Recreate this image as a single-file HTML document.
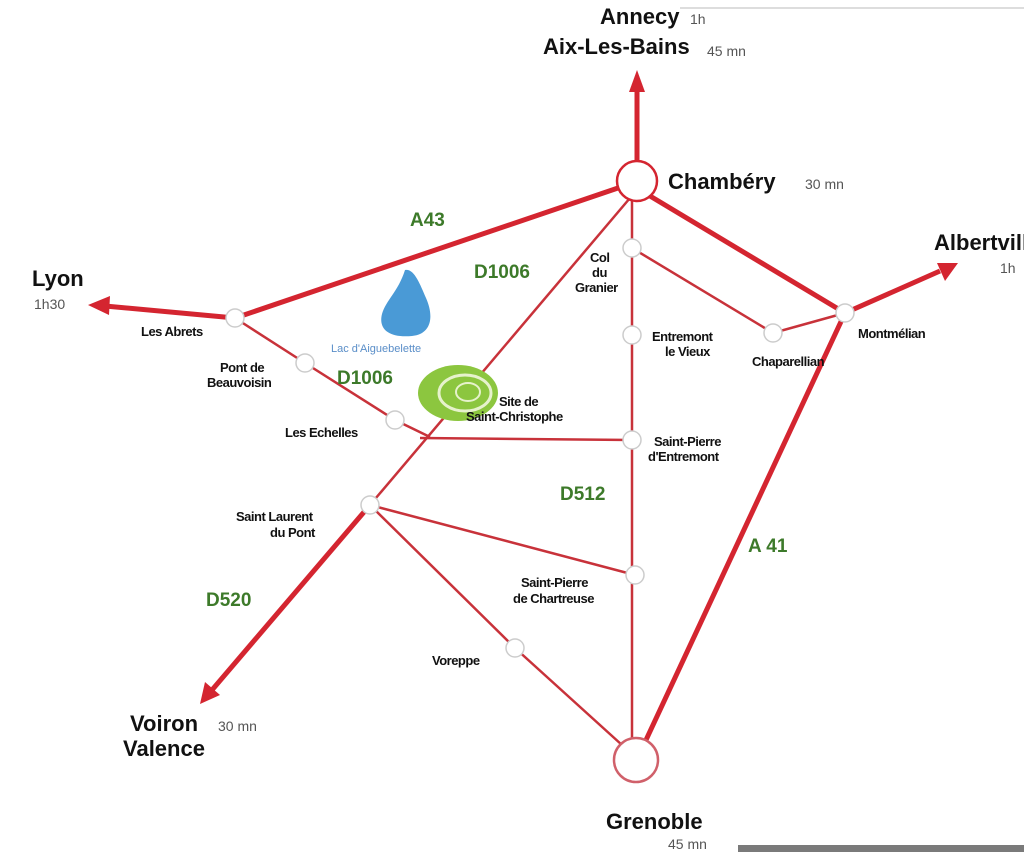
<!DOCTYPE html>
<html><head><meta charset="utf-8"><style>
html,body{margin:0;padding:0;background:#fff;width:1024px;height:854px;overflow:hidden}
svg text{font-family:"Liberation Sans",sans-serif}
.c{font-weight:bold;font-size:22px;fill:#111}
.t{font-size:14px;fill:#555}
.s{font-size:13px;fill:#111;font-weight:bold;letter-spacing:-0.5px}
.r{font-weight:bold;font-size:19px;fill:#3d7a2a}
</style></head><body>
<svg width="1024" height="854" viewBox="0 0 1024 854" xmlns="http://www.w3.org/2000/svg">
<rect x="0" y="0" width="1024" height="854" fill="#fff"/>
<line x1="680" y1="8" x2="1024" y2="8" stroke="#ddd" stroke-width="2"/>
<rect x="738" y="845" width="286" height="7" fill="#7a7a7a"/>
<g stroke="#c8323a" stroke-width="2.5" fill="none">
<line x1="630" y1="198" x2="370" y2="505"/>
<line x1="632" y1="200" x2="632" y2="740"/>
<polyline points="235,318 305,363 395,420 430,437"/>
<line x1="420" y1="438" x2="632" y2="440"/>
<polyline points="632,248 773,333 845,313"/>
<line x1="370" y1="505" x2="635" y2="575"/>
<polyline points="370,505 515,648 622,745"/>
</g>
<g stroke="#d42530" stroke-width="5" fill="none">
<line x1="618" y1="188" x2="235" y2="318"/>
<line x1="235" y1="318" x2="105" y2="306"/>
<line x1="650" y1="196" x2="845" y2="313"/>
<line x1="845" y1="313" x2="940" y2="271"/>
<line x1="845" y1="313" x2="646" y2="740"/>
<line x1="637" y1="161" x2="637" y2="88"/>
<line x1="370" y1="505" x2="212" y2="690"/>
</g>
<g fill="#d42530">
<polygon points="637,70 629,92 645,92"/>
<polygon points="88,305 110,296 109,315"/>
<polygon points="958,263 937,263 945,281"/>
<polygon points="200,704 205,682 220,695"/>
</g>
<path d="M405,270 C414,268 420,284 426,298 C434,316 432,334 412,336 C390,338 378,330 382,314 C386,300 398,292 405,270Z" fill="#4a9ad6"/>
<ellipse cx="458" cy="393" rx="40" ry="28" fill="#8cc63f"/>
<ellipse cx="465" cy="393" rx="26" ry="18" fill="none" stroke="#e6f2cc" stroke-width="3"/>
<ellipse cx="468" cy="392" rx="12" ry="9" fill="none" stroke="#e6f2cc" stroke-width="2"/>
<g fill="#fff" stroke="#ccc" stroke-width="1.5">
<circle cx="235" cy="318" r="9"/><circle cx="305" cy="363" r="9"/><circle cx="395" cy="420" r="9"/>
<circle cx="370" cy="505" r="9"/><circle cx="632" cy="248" r="9"/><circle cx="632" cy="335" r="9"/>
<circle cx="632" cy="440" r="9"/><circle cx="635" cy="575" r="9"/><circle cx="515" cy="648" r="9"/>
<circle cx="773" cy="333" r="9"/><circle cx="845" cy="313" r="9"/>
</g>
<circle cx="637" cy="181" r="20" fill="#fff" stroke="#d42530" stroke-width="2.5"/>
<circle cx="636" cy="760" r="22" fill="#fff" stroke="#d0606a" stroke-width="2.5"/>
<text class="c" x="600" y="24">Annecy</text><text class="t" x="690" y="24">1h</text>
<text class="c" x="543" y="54">Aix-Les-Bains</text><text class="t" x="707" y="56">45 mn</text>
<text class="c" x="668" y="189">Chambéry</text><text class="t" x="805" y="189">30 mn</text>
<text class="c" x="934" y="250">Albertville</text><text class="t" x="1000" y="273">1h</text>
<text class="c" x="32" y="286">Lyon</text><text class="t" x="34" y="309">1h30</text>
<text class="c" x="130" y="731">Voiron</text><text class="t" x="218" y="731">30 mn</text>
<text class="c" x="123" y="756">Valence</text>
<text class="c" x="606" y="829">Grenoble</text><text class="t" x="668" y="849">45 mn</text>
<text class="s" x="141" y="336">Les Abrets</text>
<text class="s" x="220" y="372">Pont de</text><text class="s" x="207" y="387">Beauvoisin</text>
<text class="s" x="285" y="437">Les Echelles</text>
<text class="s" x="236" y="521">Saint Laurent</text><text class="s" x="270" y="537">du Pont</text>
<text class="s" x="590" y="262">Col</text><text class="s" x="592" y="277">du</text><text class="s" x="575" y="292">Granier</text>
<text class="s" x="652" y="341">Entremont</text><text class="s" x="665" y="356">le Vieux</text>
<text class="s" x="752" y="366">Chaparellian</text>
<text class="s" x="858" y="338">Montmélian</text>
<text class="s" x="654" y="446">Saint-Pierre</text><text class="s" x="648" y="461">d'Entremont</text>
<text class="s" x="521" y="587">Saint-Pierre</text><text class="s" x="513" y="603">de Chartreuse</text>
<text class="s" x="432" y="665">Voreppe</text>
<text class="s" x="499" y="406" font-size="12">Site de</text><text class="s" x="466" y="421" font-size="12">Saint-Christophe</text>
<text x="331" y="352" font-size="11" fill="#5a8ec8" font-family="Liberation Sans">Lac d'Aiguebelette</text>
<text class="r" x="410" y="226">A43</text>
<text class="r" x="474" y="278">D1006</text>
<text class="r" x="337" y="384">D1006</text>
<text class="r" x="560" y="500">D512</text>
<text class="r" x="748" y="552">A 41</text>
<text class="r" x="206" y="606">D520</text>
</svg>
</body></html>
